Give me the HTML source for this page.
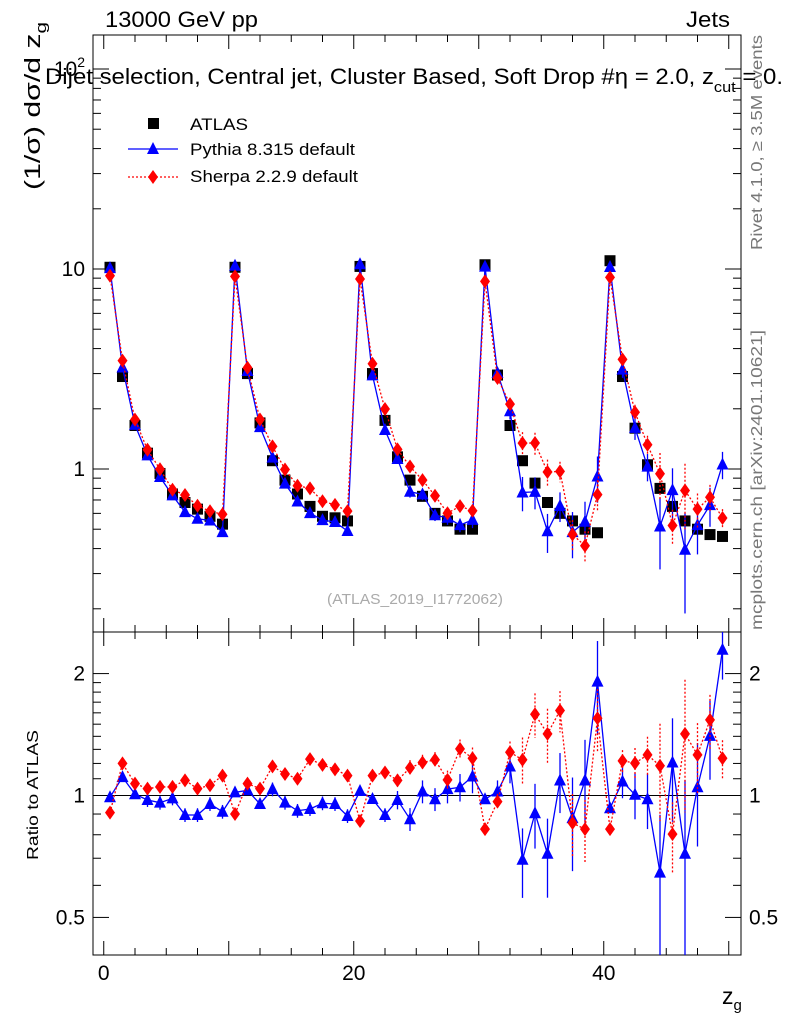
<!DOCTYPE html>
<html><head><meta charset="utf-8"><style>
body{margin:0;background:#fff;}
svg text{font-family:"Liberation Sans",sans-serif;}
</style></head><body>
<svg id="c" width="786" height="1024" xmlns="http://www.w3.org/2000/svg">
<text x="105" y="27" font-size="22" textLength="153" lengthAdjust="spacingAndGlyphs">13000 GeV pp</text>
<text x="686" y="27" font-size="22" textLength="44" lengthAdjust="spacingAndGlyphs">Jets</text>
<text x="45" y="84" font-size="22" textLength="738" lengthAdjust="spacingAndGlyphs">Dijet selection, Central jet, Cluster Based, Soft Drop #η = 2.0, z<tspan font-size="15" dy="8">cut</tspan><tspan dy="-8"> = 0.</tspan></text>
<text transform="translate(40,190) rotate(-90)" font-size="22" textLength="168" lengthAdjust="spacingAndGlyphs">(1/σ) dσ/d z<tspan font-size="15" dy="6">g</tspan></text>
<text transform="translate(762,250) rotate(-90)" font-size="16" fill="#777" textLength="215" lengthAdjust="spacingAndGlyphs">Rivet 4.1.0, ≥ 3.5M events</text>
<text transform="translate(762,630) rotate(-90)" font-size="16" fill="#777" textLength="300" lengthAdjust="spacingAndGlyphs">mcplots.cern.ch [arXiv:2401.10621]</text>
<text x="327" y="604" font-size="15" fill="#aaa" textLength="176" lengthAdjust="spacingAndGlyphs">(ATLAS_2019_I1772062)</text>
<text transform="translate(38,860) rotate(-90)" font-size="16" textLength="130" lengthAdjust="spacingAndGlyphs">Ratio to ATLAS</text>
<text x="722" y="1004" font-size="23">z<tspan font-size="15" dy="6">g</tspan></text>
<g>
<rect x="148" y="118" width="11" height="11" fill="#000"/>
<text x="190" y="130" font-size="17" textLength="58" lengthAdjust="spacingAndGlyphs">ATLAS</text>
<line x1="128" y1="149" x2="178" y2="149" stroke="#00f" stroke-width="1.3"/>
<polygon points="153,142 147,154 159,154" fill="#00f"/>
<text x="190" y="155" font-size="17" textLength="165" lengthAdjust="spacingAndGlyphs">Pythia 8.315 default</text>
<line x1="128" y1="177" x2="178" y2="177" stroke="#f00" stroke-width="1.3" stroke-dasharray="2,2"/>
<polygon points="153,170 158,177 153,184 148,177" fill="#f00"/>
<text x="190" y="182" font-size="17" textLength="168" lengthAdjust="spacingAndGlyphs">Sherpa 2.2.9 default</text>
</g>
</svg>
<script>
const zg=[];for(let i=0;i<50;i++)zg.push(i+0.5);
const atlas=[10.2,2.9,1.65,1.2,0.95,0.75,0.68,0.63,0.58,0.53,
10.2,3.0,1.7,1.1,0.88,0.75,0.65,0.58,0.57,0.55,
10.3,3.0,1.75,1.15,0.88,0.73,0.6,0.55,0.5,0.5,
10.5,2.95,1.65,1.1,0.85,0.68,0.6,0.55,0.5,0.48,
11.0,2.9,1.6,1.05,0.8,0.65,0.55,0.5,0.47,0.46];
const pythiaRatio=[0.99,1.11,1.007,0.975,0.96,0.984,0.895,0.895,0.953,0.912,
1.018,1.03,0.953,1.036,0.96,0.917,0.926,0.957,0.953,0.89,
1.026,0.98,0.895,0.975,0.874,1.023,0.979,1.037,1.048,1.114,
0.979,1.023,1.179,0.694,0.904,0.718,1.089,0.879,1.089,1.91,
0.93,1.083,1.004,0.979,0.645,1.206,0.718,1.048,1.404,2.29];
const sherpaRatio=[0.907,1.20,1.07,1.04,1.05,1.05,1.09,1.04,1.06,1.12,
0.90,1.07,1.04,1.18,1.13,1.10,1.23,1.19,1.16,1.12,
0.865,1.12,1.14,1.09,1.17,1.206,1.225,1.093,1.304,1.236,
0.826,0.966,1.279,1.225,1.587,1.42,1.621,0.855,0.826,1.552,
0.826,1.218,1.202,1.26,1.184,0.803,1.42,1.26,1.537,1.236];
const relErr=[0.01,0.02,0.02,0.03,0.03,0.03,0.03,0.03,0.03,0.03,
0.01,0.02,0.02,0.03,0.03,0.03,0.03,0.03,0.03,0.03,
0.01,0.02,0.03,0.04,0.05,0.05,0.05,0.06,0.06,0.07,
0.02,0.05,0.07,0.15,0.14,0.17,0.13,0.2,0.2,0.2,
0.02,0.07,0.1,0.12,0.3,0.22,0.4,0.22,0.17,0.12];
const xTicks=[0,20,40];
const yTicks=[1,10];
const rTicks=[0.5,1,2];

const svg=document.getElementById('c');const NS='http://www.w3.org/2000/svg';
const L=93,R=741,T=35,B=632,RB=955;
const X=v=>103.75+v*12.5;
const Y=v=>469-200*Math.log10(v);
const RY=v=>795.5-405*Math.log10(v);
function mk(t,a,p){const e=document.createElementNS(NS,t);for(const k in a)e.setAttribute(k,a[k]);(p||svg).appendChild(e);return e;}
const fr=mk('rect',{x:L,y:T,width:R-L,height:B-T,fill:'none',stroke:'#000','stroke-width':1});


const fr2=mk('rect',{x:L,y:B,width:R-L,height:RB-B,fill:'none',stroke:'#000','stroke-width':1});


const ax=mk('g',{stroke:'#000','stroke-width':1});


for(let v=0;v<=51;v+=2.5){const big=v%10===0;const len=big?14:7;const x=X(v);if(x>R)break;
[[B,B-len],[RB,RB-len],[T,T+len],[B,B+len]].forEach(([a,b])=>mk('line',{x1:x,y1:a,x2:x,y2:b},ax));}
xTicks.forEach(v=>{const t=mk('text',{x:X(v),y:RB+25,'font-size':21,'text-anchor':'middle'});t.textContent=v;

});
for(let d=-1;d<=2;d++)for(let m=1;m<10;m++){const v=m*Math.pow(10,d);const y=Y(v);if(y<T||y>B)continue;const len=m===1?16:8;
mk('line',{x1:L,y1:y,x2:L+len,y2:y},ax);mk('line',{x1:R,y1:y,x2:R-len,y2:y},ax);}
yTicks.forEach(v=>{const t=mk('text',{x:L-8,y:Y(v)+7,'font-size':21,'text-anchor':'end'});t.textContent=v;

});
const t100=mk('text',{x:L-8,y:Y(100)+7,'font-size':21,'text-anchor':'end'});t100.innerHTML='10<tspan font-size="14" dy="-9">2</tspan>';


for(let v=0.4;v<=2.5;v+=(v<2?0.1:0.5)){const y=RY(v);if(y<B||y>RB)continue;const maj=Math.abs(v-0.5)<1e-6||Math.abs(v-1)<1e-6||Math.abs(v-2)<1e-6;const len=maj?16:8;
mk('line',{x1:L,y1:y,x2:L+len,y2:y},ax);mk('line',{x1:R,y1:y,x2:R-len,y2:y},ax);}
rTicks.forEach(v=>{[[L-8,'end'],[R+8,'start']].forEach(([x,a])=>{const t=mk('text',{x:x,y:RY(v)+7,'font-size':21,'text-anchor':a});t.textContent=v;

});});
const one=mk('line',{x1:L,y1:RY(1),x2:R,y2:RY(1),stroke:'#000'});



function series(name,vals,color,dash,shape,errScale,yf,clipTop,clipBot){
 const g=mk('g',{});
 const pts=vals.map((v,i)=>[X(zg[i]),Math.max(clipTop,Math.min(clipBot,yf(v)))]);
 if(color!=='#000'){const p=mk('polyline',{points:pts.map(p=>p.join(',')).join(' '),fill:'none',stroke:color,'stroke-width':1.3,'stroke-dasharray':dash||'none'},g);
 }
 vals.forEach((v,i)=>{const x=pts[i][0],y=pts[i][1];const e=relErr[i]*errScale;
  const y1=Math.max(clipTop,Math.min(clipBot,yf(v*(1+e)))),y2=Math.max(clipTop,Math.min(clipBot,yf(Math.max(v*(1-e),1e-3))));
  if(color!=='#000'){const el=mk('line',{x1:x,y1:y1,x2:x,y2:y2,stroke:color,'stroke-width':1.3,'stroke-dasharray':dash||'none'},g);
  }
  let m;
  if(shape==='sq')m=mk('rect',{x:x-5.5,y:y-5.5,width:11,height:11,fill:color},g);
  else if(shape==='tri')m=mk('polygon',{points:`${x},${y-7} ${x-6},${y+5} ${x+6},${y+5}`,fill:color},g);
  else m=mk('polygon',{points:`${x},${y-7} ${x+5},${y} ${x},${y+7} ${x-5},${y}`,fill:color},g);
  });
}
const pyth=atlas.map((v,i)=>v*pythiaRatio[i]);
const sher=atlas.map((v,i)=>v*sherpaRatio[i]);
series('atlas-data',atlas,'#000','','sq',1,Y,T,B);
series('pythia-main',pyth,'#00f','','tri',1.3,Y,T,B);
series('sherpa-main',sher,'#f00','2,2','dia',0.9,Y,T,B);
series('pythia-ratio',pythiaRatio,'#00f','','tri',1.3,RY,B,RB);
series('sherpa-ratio',sherpaRatio,'#f00','2,2','dia',0.9,RY,B,RB);
</script>
</body></html>
